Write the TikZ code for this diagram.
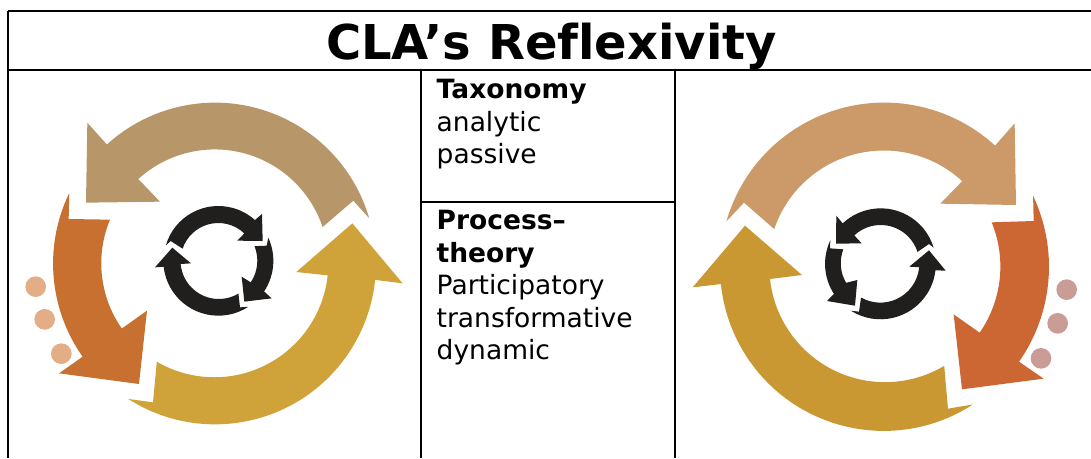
\documentclass[tikz,border=0pt]{standalone}
\usepackage{fontspec}
\setmainfont{DejaVu Sans}[Ligatures=NoCommon]
\definecolor{tanleft}{HTML}{B7976A}
\definecolor{orangeleft}{HTML}{C8702F}
\definecolor{goldleft}{HTML}{CFA23A}
\definecolor{dotleft}{HTML}{E3AD86}
\definecolor{tanright}{HTML}{CB9A68}
\definecolor{orangeright}{HTML}{CC6733}
\definecolor{goldright}{HTML}{C99832}
\definecolor{dotright}{HTML}{C99C96}
\definecolor{ringdark}{HTML}{201F1E}
\tikzset{
    gridline/.style={line width=2pt, black},
    cell/.style={anchor=north west, inner sep=0pt, align=left, font=\fontsize{26.5}{32.5}\selectfont},
    logo/.style={x=1pt, y=1pt, scale=1/3},
}
\begin{document}
\begin{tikzpicture}[x=1pt, y=1pt]
    \useasboundingbox (0,0) rectangle (1091,458);

    % table
    \coordinate (tl) at (8,447);
    \coordinate (tr) at (1091,447);
    \coordinate (hl) at (8,388);
    \coordinate (hr) at (1091,388);
    \coordinate (bl) at (8,0);
    \coordinate (ma) at (421,388);
    \coordinate (mb) at (421,0);
    \coordinate (na) at (675,388);
    \coordinate (nb) at (675,0);
    \coordinate (ca) at (421,256);
    \coordinate (cb) at (675,256);

    % left logo, big arrows
    \begin{scope}[logo, shift={(645,584)}]
        \fill[tanleft] (16.3:482) arc[start angle=16.3, end angle=132.3, radius=482]
            -- (-383,422) -- (-387,182) -- (-165,185) -- (132.3:342)
            arc[start angle=132.3, end angle=18.5, radius=341] -- (415,188) -- cycle;
        \fill[orangeleft] (154.6:484) -- (-439,133) -- (-315,131)
            arc[start angle=157.4, end angle=215, radius=341]
            -- (-204,-142) -- (-228,-362) -- (-468,-330) -- (215.2:486)
            arc[start angle=215.2, end angle=154.6, radius=485] -- cycle;
        \fill[goldleft] (237.4:483) arc[start angle=237.4, end angle=354.1, radius=483]
            -- (563,-60) -- (412,120) -- (244,-26) -- (353.9:340)
            arc[start angle=353.9, end angle=239.7, radius=342] -- (-186,-417) -- cycle;
        \fill[dotleft] (-538,-70) circle[radius=31];
        \fill[dotleft] (-511,-168) circle[radius=31];
        \fill[dotleft] (-461,-271) circle[radius=31];
    \end{scope}

    % left logo, small ring
    \begin{scope}[logo, shift={(655,592)}]
        \fill[ringdark] (163.8:164) arc[start angle=163.8, end angle=48, radius=164]
            -- (131,140) -- (133,59) -- (57,60) -- (46.4:113)
            arc[start angle=46.4, end angle=161.4, radius=113] -- (-143,59) -- cycle;
        \fill[ringdark] (24.7:165) arc[start angle=24.7, end angle=-33.6, radius=166]
            -- (160,-113) -- (78,-123) -- (70,-48) -- (-33.8:117)
            arc[start angle=-33.8, end angle=21.8, radius=117] -- (145,45) -- cycle;
        \fill[ringdark] (-57:165) arc[start angle=-57, end angle=-173.7, radius=165]
            -- (-190,-20) -- (-138,39) -- (-82,-8) -- (-113,-10)
            arc[start angle=-175, end angle=-59.3, radius=115] -- (65,-140) -- cycle;
    \end{scope}

    % right logo, big arrows
    \begin{scope}[logo, shift={(2650,574)}]
        \fill[tanright] (163.9:490) arc[start angle=163.9, end angle=47.6, radius=493]
            -- (394,430) -- (398,185) -- (171,189) -- (47.3:349)
            arc[start angle=47.3, end angle=161.3, radius=347] -- (-418,192) -- cycle;
        \fill[orangeright] (25.3:497) -- (451,137) -- (325,133)
            arc[start angle=22.3, end angle=-34.7, radius=349]
            -- (211,-143) -- (236,-368) -- (481,-336) -- (-35:497)
            arc[start angle=-35, end angle=25.3, radius=497] -- cycle;
        \fill[goldright] (-57:493) arc[start angle=-57, end angle=-174.1, radius=491]
            -- (-572,-62) -- (-415,123) -- (-244,-25) -- (-340,-37)
            arc[start angle=-173.8, end angle=-59.2, radius=347] -- (194,-426) -- cycle;
        \fill[dotright] (550,-69) circle[radius=31];
        \fill[dotright] (523,-170) circle[radius=31];
        \fill[dotright] (473,-275) circle[radius=31];
    \end{scope}

    % right logo, small ring
    \begin{scope}[logo, shift={(2642,583)}]
        \fill[ringdark] (16.8:166) arc[start angle=16.8, end angle=133.3, radius=166]
            -- (-133,144) -- (-134,60) -- (-57,61) -- (133:116)
            arc[start angle=133, end angle=17.7, radius=116] -- (145,59) -- cycle;
        \fill[ringdark] (155.4:166) -- (-152,46) -- (-112,43)
            arc[start angle=159, end angle=210.5, radius=116]
            -- (-70,-49) -- (-77,-126) -- (-161,-112) -- (213:167)
            arc[start angle=213, end angle=155.4, radius=166] -- cycle;
        \fill[ringdark] (237.7:167) arc[start angle=237.7, end angle=353.4, radius=166]
            -- (195,-21) -- (145,40) -- (86,-9) -- (-5.3:116)
            arc[start angle=-5.3, end angle=-119.6, radius=117] -- (-65,-144) -- cycle;
    \end{scope}

    \draw[gridline] (tl) -- (tr);
    \draw[gridline] (hl) -- (hr);
    \draw[gridline] (tl) -- (bl);
    \draw[gridline] (ma) -- (mb);
    \draw[gridline] (na) -- (nb);
    \draw[gridline] (ca) -- (cb);

    % labels
    \node[inner sep=0pt, font=\fontsize{48}{48}\bfseries\selectfont, anchor=base] (title) at (551.5,398) {CLA’s Reflexivity};
    \node[cell] (taxonomy) at (436.5,379) {\textbf{Taxonomy}\\analytic\\passive};
    \node[cell] (process) at (436.5,248) {\textbf{Process–}\\\textbf{theory}\\Participatory\\transformative\\dynamic};
\end{tikzpicture}
\end{document}
